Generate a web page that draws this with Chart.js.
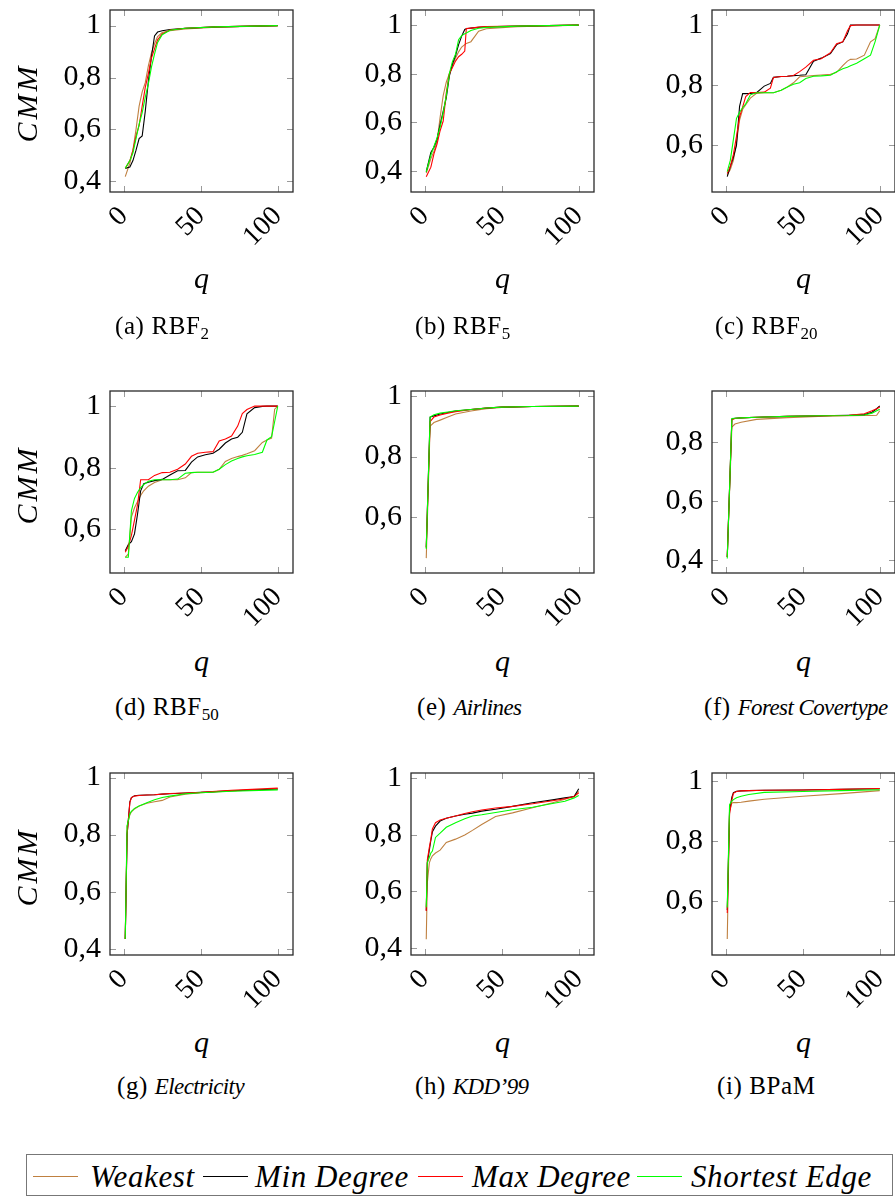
<!DOCTYPE html>
<html>
<head>
<meta charset="utf-8">
<script src="https://cdn.jsdelivr.net/npm/chart.js@4.4.1/dist/chart.umd.min.js"></script>
<style>
  body { margin: 0; background: #fff; }
  #page { position: relative; width: 895px; height: 1198px; overflow: hidden;
          font-family: "Liberation Serif", serif; color: #000; background: #fff; }
  canvas { position: absolute; }
  .lbl { position: absolute; white-space: nowrap; line-height: 1; z-index: 2; }
  .ylab { font-size: 30px; font-style: italic; letter-spacing: 3px; transform: translate(-50%, -50%) rotate(-90deg); }
  .qlab { font-size: 30px; font-style: italic; transform: translateX(-50%); }
  .cap { font-size: 25px; letter-spacing: 0.6px; }
  .cap i { font-size: 23px; letter-spacing: -0.6px; }
  .cap sub { font-size: 17px; vertical-align: -5px; line-height: 0; letter-spacing: 0; }
  #legend { position: absolute; left: 26px; top: 1154px; width: 867px; height: 42px;
            border: 1.5px solid #777; box-sizing: border-box; }
  .legtxt { font-size: 31px; font-style: italic; letter-spacing: 0.6px; }
  .legline { position: absolute; height: 0; width: 45px; border-top: 1.2px solid; top: 1176px; }
</style>
</head>
<body>
<div id="page"></div>
<script>
// CMM vs q, nine data sets, four strategies each.

const seriesNames = ['Weakest', 'Min Degree', 'Max Degree', 'Shortest Edge'];
const xTickVals = [0, 50, 100];

// (a) RBF2
const qA = [1, 4, 6, 8, 10, 12, 14, 16, 18, 20, 22, 25, 30, 40, 60, 100];
const weakA = [.418, .47, .52, .60, .69, .745, .78, .845, .895, .93, .958, .973, .98, .987, .994, 1];
const minA = [.45, .455, .48, .52, .565, .575, .67, .785, .88, .96, .975, .98, .985, .99, .995, 1];
const maxA = [.45, .48, .52, .575, .615, .69, .762, .815, .875, .91, .945, .968, .983, .99, .995, 1];
const shortA = [.45, .48, .51, .565, .62, .665, .724, .775, .84, .89, .935, .965, .982, .99, .995, 1];

// (b) RBF5
const qB = [1, 4, 6, 8, 10, 12, 14, 16, 18, 20, 22, 24, 26, 27, 30, 35, 40, 60, 100];
const weakB = [.39, .45, .48, .52, .62, .71, .765, .80, .83, .865, .89, .91, .92, .925, .932, .975, .985, .994, 1];
const minB = [.396, .475, .497, .53, .59, .645, .70, .79, .84, .875, .92, .955, .982, .985, .988, .991, .993, .996, 1];
const maxB = [.375, .415, .47, .51, .565, .605, .72, .80, .825, .852, .87, .88, .893, .986, .988, .992, .994, .996, 1];
const shortB = [.396, .465, .50, .535, .58, .64, .71, .80, .85, .88, .94, .957, .965, .968, .978, .987, .991, .996, 1];

// (c) RBF20
const qC = [1, 3, 5, 7, 9, 11, 13, 16, 20, 25, 29, 31, 36, 40, 44, 48, 52, 57, 62, 68, 72, 76, 79, 81, 85, 90, 94, 97, 100];
const weakC = [.502, .52, .55, .61, .684, .72, .735, .757, .773, .775, .775, .775, .783, .794, .808, .828, .83, .832, .834, .836, .843, .865, .88, .886, .887, .90, .944, .955, 1];
const minC = [.496, .53, .56, .60, .73, .772, .772, .773, .775, .797, .806, .826, .829, .83, .832, .833, .835, .88, .89, .905, .935, .944, .97, 1, 1, 1, 1, 1, 1];
const maxC = [.507, .53, .57, .63, .695, .728, .762, .776, .776, .777, .79, .826, .829, .83, .832, .845, .86, .883, .888, .908, .938, .944, .98, .998, 1, 1, 1, 1, 1];
const shortC = [.513, .55, .62, .69, .71, .725, .738, .768, .775, .775, .775, .775, .783, .794, .803, .808, .822, .83, .831, .833, .845, .855, .86, .865, .873, .888, .90, .945, 1];

// (d) RBF50
const qD = [1, 3, 5, 7, 9, 11, 13, 16, 20, 25, 30, 35, 40, 44, 48, 53, 58, 62, 66, 70, 74, 77, 80, 85, 90, 93, 96, 98, 100];
const weakD = [.509, .52, .64, .67, .69, .71, .725, .74, .752, .761, .761, .761, .767, .784, .785, .785, .785, .795, .82, .83, .836, .84, .845, .855, .882, .89, .896, .99, 1];
const minD = [.53, .55, .56, .585, .65, .725, .748, .753, .758, .762, .776, .79, .791, .818, .835, .842, .847, .86, .88, .893, .899, .915, .975, .995, .999, 1, 1, 1, 1];
const maxD = [.525, .545, .58, .63, .68, .761, .761, .761, .775, .784, .785, .795, .812, .837, .847, .85, .852, .887, .893, .903, .935, .976, .989, 1, 1, 1, 1, 1, 1];
const shortD = [.509, .509, .66, .70, .72, .735, .745, .756, .761, .761, .761, .763, .782, .784, .785, .785, .785, .795, .81, .822, .83, .835, .839, .843, .85, .89, .901, .95, 1];

// (e) Airlines
const qE = [1, 3.5, 6, 10, 15, 20, 30, 40, 50, 70, 100];
const weakE = [.465, .90, .912, .92, .93, .94, .95, .958, .962, .965, .966];
const minE = [.50, .93, .934, .94, .945, .95, .955, .96, .963, .965, .966];
const maxE = [.50, .915, .93, .937, .943, .948, .955, .96, .963, .965, .966];
const shortE = [.495, .93, .938, .943, .947, .951, .955, .96, .963, .965, .966];

// (f) Forest Covertype
const qF = [1, 4, 6, 10, 20, 40, 60, 80, 90, 95, 98, 100];
const weakF = [.41, .85, .86, .866, .876, .882, .886, .888, .889, .889, .89, .905];
const minF = [.41, .877, .88, .881, .883, .886, .888, .89, .892, .90, .912, .922];
const maxF = [.41, .875, .879, .881, .883, .886, .888, .89, .895, .905, .912, .918];
const shortF = [.405, .879, .88, .881, .883, .886, .888, .889, .891, .897, .905, .91];

// (g) Electricity
const qG = [1, 2.2, 4, 5, 7, 10, 15, 20, 25, 30, 40, 50, 70, 100];
const weakG = [.434, .83, .87, .88, .89, .90, .91, .915, .92, .932, .942, .947, .953, .96];
const minG = [.434, .80, .915, .93, .936, .938, .939, .94, .942, .943, .946, .948, .954, .96];
const maxG = [.434, .80, .913, .93, .935, .937, .939, .94, .942, .944, .946, .948, .955, .963];
const shortG = [.434, .83, .873, .882, .892, .90, .912, .922, .93, .935, .943, .947, .952, .957];

// (h) KDD'99
const qH = [1, 1.7, 3, 4, 5, 7, 10, 14, 20, 26, 31, 37, 46, 57, 70, 83, 91, 97, 100];
const weakH = [.43, .63, .70, .715, .725, .735, .745, .772, .784, .799, .815, .836, .864, .877, .895, .913, .925, .936, .953];
const minH = [.531, .70, .745, .78, .81, .83, .848, .858, .866, .872, .876, .883, .89, .90, .913, .923, .93, .935, .962];
const maxH = [.53, .71, .755, .785, .82, .842, .852, .858, .866, .875, .881, .887, .894, .90, .909, .92, .927, .935, .948];
const shortH = [.543, .70, .72, .735, .742, .79, .805, .826, .842, .856, .866, .87, .878, .888, .897, .91, .918, .93, .938];

// (i) BPaM
const qI = [1, 2.5, 4, 5, 7, 10, 15, 25, 50, 75, 100];
const weakI = [.473, .90, .926, .927, .927, .928, .932, .938, .948, .957, .967];
const minI = [.57, .90, .945, .96, .965, .966, .967, .968, .969, .971, .973];
const maxI = [.56, .89, .935, .958, .964, .966, .967, .968, .969, .971, .974];
const shortI = [.578, .92, .932, .937, .943, .948, .954, .961, .964, .967, .97];

const yTicks4 = [0.4, 0.6, 0.8, 1];
const yTicksHigh = [0.6, 0.8, 1];
const yTicksLow = [0.4, 0.6, 0.8];

const colors = ['#bf8040', '#000000', '#ff0000', '#00ff00'];

const COL = [110, 411, 712];
const ROW = [10, 391, 773];
const BOX_W = 183, BOX_H = 182;
const PAD_L = 100, PAD_T = 12, PAD_R = 1, PAD_B = 70;

const panels = [
  { q: qA, ys: [weakA, minA, maxA, shortA], yMin: 0.359, yMax: 1.06, yTicks: yTicks4, col: 0, row: 0, cap: '(a) RBF<sub>2</sub>', capX: 115 },
  { q: qB, ys: [weakB, minB, maxB, shortB], yMin: 0.3125, yMax: 1.0625, yTicks: yTicks4, col: 1, row: 0, cap: '(b) RBF<sub>5</sub>', capX: 415 },
  { q: qC, ys: [weakC, minC, maxC, shortC], yMin: 0.445, yMax: 1.05, yTicks: yTicksHigh, col: 2, row: 0, cap: '(c) RBF<sub>20</sub>', capX: 715 },
  { q: qD, ys: [weakD, minD, maxD, shortD], yMin: 0.458, yMax: 1.049, yTicks: yTicksHigh, col: 0, row: 1, cap: '(d) RBF<sub>50</sub>', capX: 115 },
  { q: qE, ys: [weakE, minE, maxE, shortE], yMin: 0.416, yMax: 1.016, yTicks: yTicksHigh, col: 1, row: 1, cap: '(e) <i>Airlines</i>', capX: 417 },
  { q: qF, ys: [weakF, minF, maxF, shortF], yMin: 0.356, yMax: 0.972, yTicks: yTicksLow, col: 2, row: 1, cap: '(f) <i>Forest Covertype</i>', capX: 704 },
  { q: qG, ys: [weakG, minG, maxG, shortG], yMin: 0.378, yMax: 1.016, yTicks: yTicks4, col: 0, row: 2, cap: '(g) <i>Electricity</i>', capX: 117 },
  { q: qH, ys: [weakH, minH, maxH, shortH], yMin: 0.374, yMax: 1.018, yTicks: yTicks4, col: 1, row: 2, cap: '(h) <i>KDD’99</i>', capX: 415 },
  { q: qI, ys: [weakI, minI, maxI, shortI], yMin: 0.42, yMax: 1.0255, yTicks: yTicksHigh, col: 2, row: 2, cap: '(i) BPaM', capX: 717 },
];

const capBase = [334, 715, 1094];
const qBase = [288, 671, 1052];
const cmmY = [103, 485, 867];

// inward ticks on all four sides + axis frame, like pgfplots
const frameTicks = {
  id: 'frameTicks',
  beforeDatasetsDraw(chart) {
    const { ctx, chartArea: a, scales } = chart;
    const len = 6;
    ctx.save();
    ctx.strokeStyle = '#9a9a9a';
    ctx.lineWidth = 1;
    ctx.beginPath();
    scales.x.ticks.forEach(t => {
      const px = Math.round(scales.x.getPixelForValue(t.value)) + 0.5;
      ctx.moveTo(px, a.bottom); ctx.lineTo(px, a.bottom - len);
      ctx.moveTo(px, a.top); ctx.lineTo(px, a.top + len);
    });
    scales.y.ticks.forEach(t => {
      const py = Math.round(scales.y.getPixelForValue(t.value)) + 0.5;
      ctx.moveTo(a.left, py); ctx.lineTo(a.left + len, py);
      ctx.moveTo(a.right, py); ctx.lineTo(a.right - len, py);
    });
    ctx.stroke();
    ctx.restore();
  },
  afterDraw(chart) {
    const { ctx, chartArea: a } = chart;
    ctx.save();
    ctx.strokeStyle = '#2a2a2a';
    ctx.lineWidth = 1.3;
    ctx.strokeRect(a.left, a.top, a.right - a.left, a.bottom - a.top);
    ctx.restore();
  }
};

const fmtY = v => (v === 1 ? '1' : v.toFixed(1).replace('.', ','));

const page = document.getElementById('page');

function addLabel(cls, html, left, top) {
  const d = document.createElement('div');
  d.className = 'lbl ' + cls;
  d.innerHTML = html;
  d.style.left = left + 'px';
  d.style.top = top + 'px';
  page.appendChild(d);
  return d;
}

function makePanel(p) {
  const boxL = COL[p.col], boxT = ROW[p.row];
  const W = PAD_L + BOX_W + PAD_R, H = PAD_T + BOX_H + PAD_B;
  const cv = document.createElement('canvas');
  cv.width = W; cv.height = H;
  cv.style.width = W + 'px'; cv.style.height = H + 'px';
  cv.style.left = (boxL - PAD_L) + 'px';
  cv.style.top = (boxT - PAD_T) + 'px';
  page.appendChild(cv);

  const datasets = p.ys.map((ys, k) => ({
    label: seriesNames[k],
    data: p.q.map((x, i) => ({ x, y: ys[i] })),
    borderColor: colors[k],
    borderWidth: 1.1,
    pointRadius: 0,
    tension: 0,
    fill: false,
    order: 4 - k,
  }));

  new Chart(cv, {
    type: 'line',
    data: { datasets },
    options: {
      responsive: false,
      animation: false,
      devicePixelRatio: 1,
      layout: { padding: { top: PAD_T, right: PAD_R, left: 0, bottom: 0 } },
      plugins: { legend: { display: false }, tooltip: { enabled: false } },
      scales: {
        x: {
          type: 'linear',
          min: -8.9,
          max: 109.9,
          grid: { display: false, drawTicks: false },
          border: { display: false },
          afterBuildTicks: s => { s.ticks = xTickVals.map(v => ({ value: v })); },
          afterFit: s => { s.height = PAD_B; s.paddingLeft = 0; s.paddingRight = 0; },
          ticks: { autoSkip: false, minRotation: 45, maxRotation: 45, padding: 8, color: '#000',
                   font: { family: 'Liberation Serif', size: 28 }, callback: v => String(v) },
        },
        y: {
          type: 'linear',
          min: p.yMin,
          max: p.yMax,
          grid: { display: false, drawTicks: false },
          border: { display: false },
          afterBuildTicks: s => { s.ticks = p.yTicks.map(v => ({ value: v })); },
          afterFit: s => { s.width = PAD_L; s.paddingTop = 0; s.paddingBottom = 0; },
          ticks: { padding: 9, color: '#000', font: { family: 'Liberation Serif', size: 30 }, callback: fmtY },
        },
      },
    },
    plugins: [frameTicks],
  });

  // axis label q, caption, CMM on first column
  addLabel('qlab', 'q', boxL + BOX_W / 2, qBase[p.row] - 25);
  addLabel('cap', p.cap, p.capX, capBase[p.row] - 21);
  if (p.col === 0) addLabel('ylab', 'CMM', 27, cmmY[p.row]);
}

panels.forEach(makePanel);

// legend
const leg = document.createElement('div');
leg.id = 'legend';
page.appendChild(leg);
const legLines = [33, 203, 418, 637];
const legTexts = [90, 255, 472, 691];
seriesNames.forEach((name, k) => {
  const ln = document.createElement('div');
  ln.className = 'legline';
  ln.style.left = legLines[k] + 'px';
  ln.style.borderTopColor = colors[k];
  page.appendChild(ln);
  addLabel('legtxt', name, legTexts[k], 1161);
});
</script>
</body>
</html>
